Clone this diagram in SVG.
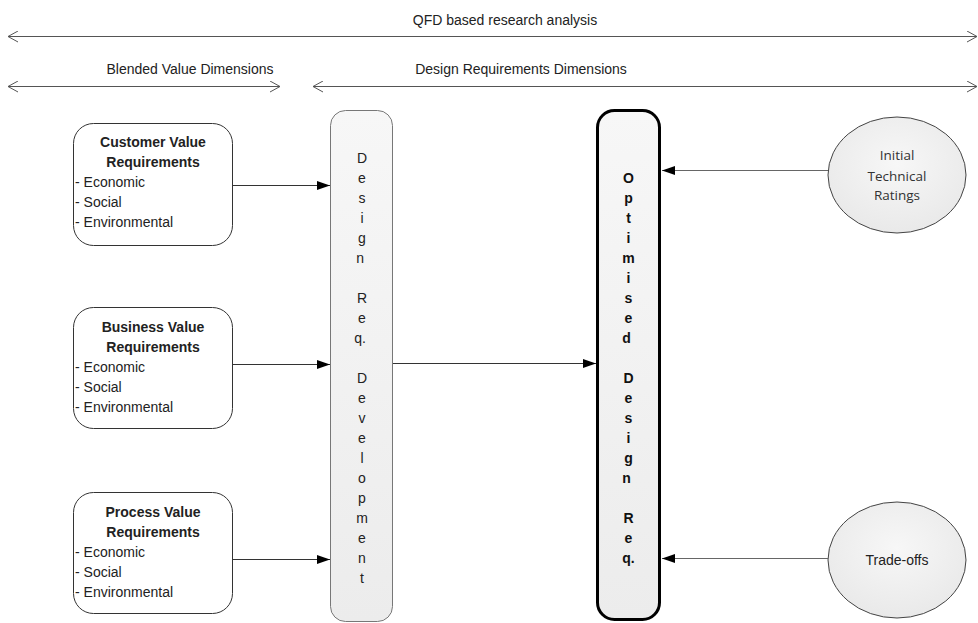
<svg xmlns="http://www.w3.org/2000/svg" width="978" height="623" viewBox="0 0 978 623">
<defs>
  <linearGradient id="gfill" x1="0" y1="0" x2="0" y2="1">
    <stop offset="0" stop-color="#f7f7f7"/>
    <stop offset="1" stop-color="#ececec"/>
  </linearGradient>
  <radialGradient id="efill" cx="0.5" cy="0.4" r="0.6">
    <stop offset="0" stop-color="#f7f7f7"/>
    <stop offset="1" stop-color="#e9e9e9"/>
  </radialGradient>
  <marker id="arr" markerUnits="userSpaceOnUse" markerWidth="14" markerHeight="10" refX="13" refY="4.5" orient="auto">
    <path d="M0,0 L13,4.5 L0,9 z" fill="#000"/>
  </marker>
  <marker id="chev" markerUnits="userSpaceOnUse" markerWidth="12" markerHeight="12" refX="11" refY="6" orient="auto-start-reverse">
    <path d="M1,0.5 L11,6 L1,11.5" fill="none" stroke="#555" stroke-width="1"/>
  </marker>
</defs>
<style>
  .lbl{font-family:"Liberation Sans",Arial,sans-serif;font-size:14px;fill:#222}
  .ttl{font-family:"Liberation Sans",Arial,sans-serif;font-size:14px;font-weight:bold;fill:#222}
  .cal{font-family:"Open Sans","Liberation Sans",sans-serif;font-size:13.5px;fill:#333}
  .box{fill:#fff;stroke:#333;stroke-width:1}
  .dim{stroke:#555;stroke-width:1;fill:none}
  .con{stroke:#333;stroke-width:1;fill:none}
  .cong{stroke:#666;stroke-width:1;fill:none}
</style>
<rect width="978" height="623" fill="#fff"/>

<g id="dimensions">
  <line class="dim" x1="8" y1="36.5" x2="977" y2="36.5" marker-start="url(#chev)" marker-end="url(#chev)"/>
  <text class="lbl" x="505" y="25" text-anchor="middle">QFD based research analysis</text>
  <line class="dim" x1="8" y1="86.5" x2="280" y2="86.5" marker-start="url(#chev)" marker-end="url(#chev)"/>
  <text class="lbl" x="190" y="74" text-anchor="middle">Blended Value Dimensions</text>
  <line class="dim" x1="313" y1="86.5" x2="977" y2="86.5" marker-start="url(#chev)" marker-end="url(#chev)"/>
  <text class="lbl" x="521" y="74" text-anchor="middle">Design Requirements Dimensions</text>
</g>

<g id="customer">
  <rect class="box" x="73.5" y="123.5" width="159" height="122" rx="20"/>
  <text class="ttl" x="153" y="147" text-anchor="middle">Customer Value</text>
  <text class="ttl" x="153" y="167" text-anchor="middle">Requirements</text>
  <text class="lbl" x="75" y="187">- Economic</text>
  <text class="lbl" x="75" y="207">- Social</text>
  <text class="lbl" x="75" y="227">- Environmental</text>
</g>

<g id="business">
  <rect class="box" x="73.5" y="307.5" width="159" height="121" rx="20"/>
  <text class="ttl" x="153" y="332" text-anchor="middle">Business Value</text>
  <text class="ttl" x="153" y="352" text-anchor="middle">Requirements</text>
  <text class="lbl" x="75" y="372">- Economic</text>
  <text class="lbl" x="75" y="392">- Social</text>
  <text class="lbl" x="75" y="412">- Environmental</text>
</g>

<g id="process">
  <rect class="box" x="73.5" y="492.5" width="159" height="121" rx="20"/>
  <text class="ttl" x="153" y="517" text-anchor="middle">Process Value</text>
  <text class="ttl" x="153" y="537" text-anchor="middle">Requirements</text>
  <text class="lbl" x="75" y="557">- Economic</text>
  <text class="lbl" x="75" y="577">- Social</text>
  <text class="lbl" x="75" y="597">- Environmental</text>
</g>

<g id="design-req">
  <rect x="330.5" y="110.5" width="62" height="511" rx="15" fill="url(#gfill)" stroke="#777" stroke-width="1"/>
  <text class="lbl" text-anchor="middle">
    <tspan x="362" y="163">D</tspan><tspan x="362" y="183">e</tspan><tspan x="362" y="203">s</tspan><tspan x="362" y="223">i</tspan><tspan x="362" y="243">g</tspan><tspan x="362" y="263">n</tspan>
    <tspan x="362" y="303">R</tspan><tspan x="362" y="323">e</tspan><tspan x="362" y="343">q.</tspan>
    <tspan x="362" y="383">D</tspan><tspan x="362" y="403">e</tspan><tspan x="362" y="423">v</tspan><tspan x="362" y="443">e</tspan><tspan x="362" y="463">l</tspan><tspan x="362" y="483">o</tspan><tspan x="362" y="503">p</tspan><tspan x="362" y="523">m</tspan><tspan x="362" y="543">e</tspan><tspan x="362" y="563">n</tspan><tspan x="362" y="583">t</tspan>
  </text>
</g>

<g id="optimised">
  <rect x="597.5" y="110.5" width="62" height="509" rx="17" fill="url(#gfill)" stroke="#000" stroke-width="3"/>
  <text class="ttl" text-anchor="middle" style="fill:#111">
    <tspan x="628.5" y="183">O</tspan><tspan x="628.5" y="203">p</tspan><tspan x="628.5" y="223">t</tspan><tspan x="628.5" y="243">i</tspan><tspan x="628.5" y="263">m</tspan><tspan x="628.5" y="283">i</tspan><tspan x="628.5" y="303">s</tspan><tspan x="628.5" y="323">e</tspan><tspan x="628.5" y="343">d</tspan>
    <tspan x="628.5" y="383">D</tspan><tspan x="628.5" y="403">e</tspan><tspan x="628.5" y="423">s</tspan><tspan x="628.5" y="443">i</tspan><tspan x="628.5" y="463">g</tspan><tspan x="628.5" y="483">n</tspan>
    <tspan x="628.5" y="523">R</tspan><tspan x="628.5" y="543">e</tspan><tspan x="628.5" y="563">q.</tspan>
  </text>
</g>

<g id="initial-ratings">
  <ellipse cx="897" cy="175" rx="69" ry="58" fill="url(#efill)" stroke="#444" stroke-width="1"/>
  <text class="cal" x="897" y="160" text-anchor="middle">Initial</text>
  <text class="cal" x="897" y="181" text-anchor="middle">Technical</text>
  <text class="cal" x="897" y="200" text-anchor="middle">Ratings</text>
</g>

<g id="trade-offs">
  <ellipse cx="897" cy="560" rx="69" ry="58" fill="url(#efill)" stroke="#444" stroke-width="1"/>
  <text class="lbl" x="897" y="565" text-anchor="middle">Trade-offs</text>
</g>

<g id="connectors">
  <line class="con" x1="232" y1="185.5" x2="330" y2="185.5" marker-end="url(#arr)"/>
  <line class="con" x1="232" y1="364.5" x2="330" y2="364.5" marker-end="url(#arr)"/>
  <line class="con" x1="232" y1="559.5" x2="330" y2="559.5" marker-end="url(#arr)"/>
  <line class="con" x1="393" y1="363.5" x2="596" y2="363.5" marker-end="url(#arr)"/>
  <line class="cong" x1="828" y1="170.5" x2="662" y2="170.5" marker-end="url(#arr)"/>
  <line class="cong" x1="828" y1="558.5" x2="662" y2="558.5" marker-end="url(#arr)"/>
</g>
</svg>
